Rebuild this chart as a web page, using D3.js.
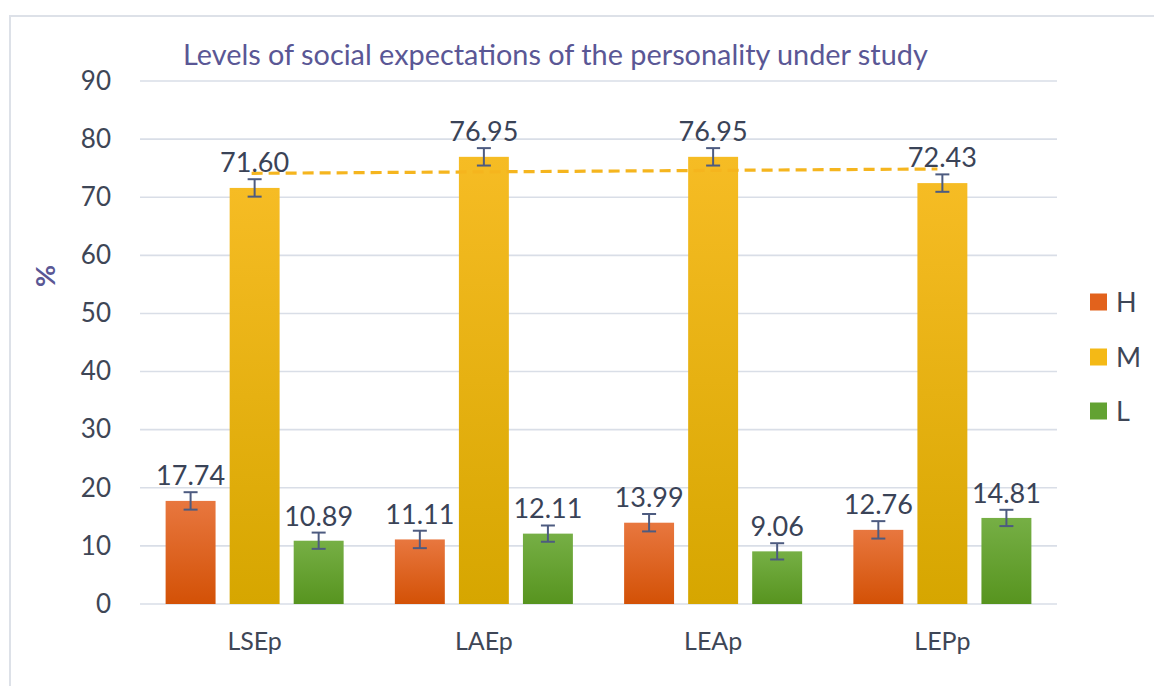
<!DOCTYPE html>
<html>
<head>
<meta charset="utf-8">
<script src="https://cdn.jsdelivr.net/npm/d3@7"></script>
<style>
  html, body { margin: 0; padding: 0; background: #ffffff; }
  svg { display: block; }
  text { font-family: Lato, "Open Sans", sans-serif; }
</style>
</head>
<body>
<svg id="chart" width="1154" height="686"></svg>
<script>
// ---- data ----
const categories = ["LSEp", "LAEp", "LEAp", "LEPp"];
const seriesNames = ["H", "M", "L"];
const valuesH = [17.74, 11.11, 13.99, 12.76];
const valuesM = [71.60, 76.95, 76.95, 72.43];
const valuesL = [10.89, 12.11, 9.06, 14.81];
const errorsH = [1.5, 1.5, 1.5, 1.5];
const errorsM = [1.5, 1.5, 1.5, 1.5];
const errorsL = [1.4, 1.4, 1.4, 1.4];
const trendM = [74.11, 74.86]; // linear trend of M (first / last category)
const yTicks = [0, 10, 20, 30, 40, 50, 60, 70, 80, 90];
const titleText = "Levels of social expectations of the personality under study";
const yLabel = "%";

const seriesValues = { H: valuesH, M: valuesM, L: valuesL };
const seriesErrors = { H: errorsH, M: errorsM, L: errorsL };

// ---- styles ----
const grads = {
  H: ["#E8773F", "#D35106"],
  M: ["#F6BC24", "#D6A600"],
  L: ["#76AF45", "#57941F"]
};
const legendColors = { H: "#E2621C", M: "#F4B916", L: "#62A232" };

const svg = d3.select("#chart");

// outer frame
svg.append("rect")
  .attr("x", 10).attr("y", 16).attr("width", 1160).attr("height", 700)
  .attr("fill", "none").attr("stroke", "#dde1e8").attr("stroke-width", 2);

const defs = svg.append("defs");
seriesNames.forEach(s => {
  const g = defs.append("linearGradient").attr("id", "grad" + s)
    .attr("x1", 0).attr("y1", 0).attr("x2", 0).attr("y2", 1);
  g.append("stop").attr("offset", "0%").attr("stop-color", grads[s][0]);
  g.append("stop").attr("offset", "100%").attr("stop-color", grads[s][1]);
});

const x0 = d3.scaleBand().domain(categories).range([140, 1057]).padding(0);
const x1 = d3.scaleBand().domain(seriesNames).range([0, x0.bandwidth()])
  .paddingInner(0.22).paddingOuter(0.4);
const y = d3.scaleLinear().domain([0, 90]).range([604, 81]);

// gridlines
svg.append("g").selectAll("line").data(yTicks).join("line")
  .attr("x1", 140).attr("x2", 1057)
  .attr("y1", d => y(d)).attr("y2", d => y(d))
  .attr("stroke", "#d9dee7").attr("stroke-width", 1.6);

// y axis labels
const yAxis = d3.axisLeft(y).tickValues(yTicks).tickSize(0).tickPadding(0);
const gy = svg.append("g").attr("transform", "translate(111,0)").call(yAxis);
gy.select(".domain").remove();
gy.selectAll("text")
  .attr("font-size", 26).attr("fill", "#3e4656")
  .style("font-family", "Lato, sans-serif");

// x axis labels
const xAxis = d3.axisBottom(x0).tickSize(0).tickPadding(0);
const gx = svg.append("g").attr("transform", "translate(0,632)").call(xAxis);
gx.select(".domain").remove();
gx.selectAll("text")
  .attr("font-size", 25).attr("fill", "#3e4656")
  .style("font-family", "Lato, sans-serif");

// bars
const rows = [];
categories.forEach((c, i) => {
  seriesNames.forEach(s => {
    rows.push({ cat: c, s: s, v: seriesValues[s][i], e: seriesErrors[s][i] });
  });
});

const barG = svg.append("g");
barG.selectAll("rect").data(rows).join("rect")
  .attr("x", d => x0(d.cat) + x1(d.s))
  .attr("y", d => y(d.v))
  .attr("width", x1.bandwidth())
  .attr("height", d => y(0) - y(d.v))
  .attr("fill", d => "url(#grad" + d.s + ")");

// trend line for M
svg.append("line")
  .attr("x1", x0(categories[0]) + x1("M") + x1.bandwidth() / 2 - 3)
  .attr("x2", x0(categories[categories.length - 1]) + x1("M") + x1.bandwidth() / 2 - 5)
  .attr("y1", y(trendM[0])).attr("y2", y(trendM[1]))
  .attr("stroke", "#F5B51E").attr("stroke-width", 3.2)
  .attr("stroke-dasharray", "11,6");

// error bars
const errG = svg.append("g").attr("stroke", "#4d5b80").attr("stroke-width", 2);
rows.forEach(d => {
  const cx = x0(d.cat) + x1(d.s) + x1.bandwidth() / 2;
  const yt = y(d.v + d.e), yb = y(d.v - d.e);
  errG.append("line").attr("x1", cx).attr("x2", cx).attr("y1", yt).attr("y2", yb);
  errG.append("line").attr("x1", cx - 7).attr("x2", cx + 7).attr("y1", yt).attr("y2", yt);
  errG.append("line").attr("x1", cx - 7).attr("x2", cx + 7).attr("y1", yb).attr("y2", yb);
});

// value labels
svg.append("g").selectAll("text").data(rows).join("text")
  .attr("x", d => x0(d.cat) + x1(d.s) + x1.bandwidth() / 2)
  .attr("y", d => y(d.v + d.e) - 7)
  .attr("text-anchor", "middle")
  .attr("font-size", 27).attr("fill", "#3a4357")
  .text(d => d.v.toFixed(2));

// title
const title = svg.append("text")
  .attr("x", 183).attr("y", 65)
  .attr("font-size", 25).attr("fill", "#5a5795")
  .text(titleText);
const tl = title.node().getComputedTextLength();
title.attr("font-size", 25 * 745 / tl);

// y label
svg.append("text")
  .attr("transform", "translate(55,276) rotate(-90)")
  .attr("text-anchor", "middle")
  .attr("font-size", 27).attr("font-weight", "bold").attr("fill", "#5a5795")
  .text(yLabel);

// legend
const legY = { H: 302, M: 357, L: 411 };
const leg = svg.append("g");
seriesNames.forEach(s => {
  leg.append("rect").attr("x", 1090).attr("y", legY[s] - 8.5)
    .attr("width", 17).attr("height", 17).attr("fill", legendColors[s]);
  leg.append("text").attr("x", 1116).attr("y", legY[s] + 10)
    .attr("font-size", 27).attr("fill", "#3e4656").text(s);
});
</script>
</body>
</html>
